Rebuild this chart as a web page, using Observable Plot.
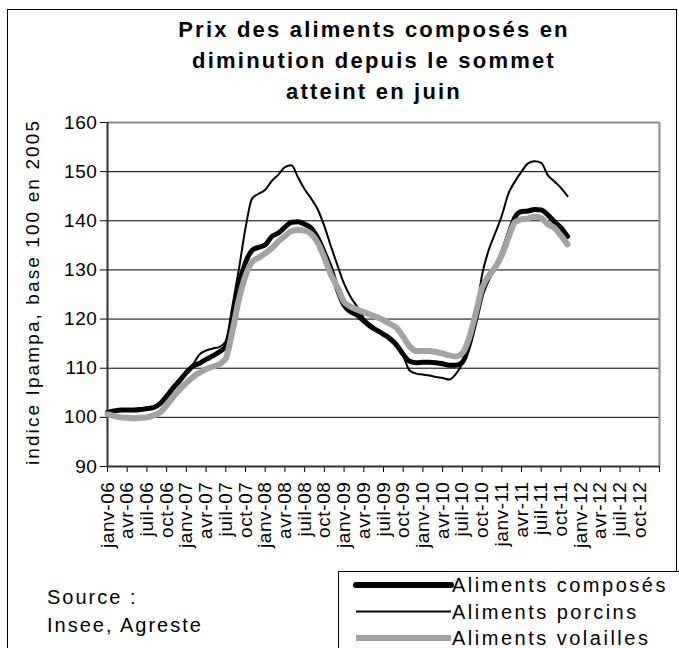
<!DOCTYPE html>
<html><head><meta charset="utf-8">
<script src="https://cdn.jsdelivr.net/npm/d3@7"></script>
<script src="https://cdn.jsdelivr.net/npm/@observablehq/plot@0.6"></script>
<style>
body{margin:0;background:#fff;}
#wrap{position:relative;width:679px;height:648px;overflow:hidden;font-family:"Liberation Sans",Arial,sans-serif;color:#000;background:#fff;}
#frame{position:absolute;left:7px;top:9px;width:670px;height:700px;border:1px solid #000;box-sizing:border-box;}
#title{position:absolute;left:74px;width:600px;top:14px;text-align:center;font-weight:bold;font-size:22px;line-height:31px;letter-spacing:2.2px;}
#chart{position:absolute;left:0;top:100px;}
#chart svg text{letter-spacing:0.6px;}
#ylab{position:absolute;left:33px;top:292px;transform:translate(-50%,-50%) rotate(-90deg);white-space:nowrap;font-size:19px;letter-spacing:2.1px;}
#source{position:absolute;left:47px;top:583px;font-size:20px;line-height:28px;letter-spacing:2px;}
#legend{position:absolute;left:338px;top:571px;}
</style>
</head><body>
<div id="wrap">
  <div id="frame"></div>
  <div id="title">Prix des aliments composés en<br>diminution depuis le sommet<br>atteint en juin</div>
  <div id="chart"></div>
  <div id="ylab">indice Ipampa, base 100 en 2005</div>
  <div id="source">Source :<br>Insee, Agreste</div>
  <svg id="legend" width="341" height="77"></svg>
</div>
<script>
// Monthly values, janv-06 .. nov-11
const composes = [101.0,101.3,101.5,101.5,101.5,101.6,101.8,102.0,102.8,104.3,106.0,107.5,109.1,110.4,111.0,111.8,112.5,113.3,114.5,119.5,127.0,131.5,134.0,134.6,135.1,136.8,137.5,138.7,139.7,139.8,139.3,138.5,136.5,133.5,130.2,126.0,122.8,121.5,120.8,119.6,118.5,117.7,116.9,116.0,114.7,112.8,111.4,111.1,111.2,111.2,111.1,110.9,110.6,110.6,111.2,114.6,119.8,125.3,128.5,130.5,133.2,137.0,140.7,141.9,142.0,142.3,142.2,141.2,139.8,138.6,136.8];
const porcins = [101.0,101.3,101.5,101.5,101.5,101.6,101.8,102.0,102.8,104.3,106.0,107.5,109.1,110.8,112.8,113.6,114.0,114.3,115.5,122.6,130.2,138.5,144.5,145.5,146.3,148.1,149.4,150.9,151.3,148.8,146.4,144.5,142.3,138.9,134.8,130.9,127.2,124.5,122.5,120.2,119.0,117.9,117.0,116.0,114.7,112.5,109.5,108.9,108.7,108.5,108.2,108.0,107.7,108.8,111.0,115.3,120.4,129.0,134.0,137.5,141.0,145.5,148.0,150.0,151.7,152.1,151.8,149.3,148.0,146.7,145.0];
const volailles = [100.6,100.3,100.0,99.9,99.8,99.9,100.0,100.4,101.0,102.5,104.2,105.7,107.0,108.2,109.1,109.8,110.3,110.8,112.0,117.5,124.0,128.8,131.6,132.5,133.4,134.4,135.8,136.9,137.9,138.1,138.0,137.3,135.5,132.5,129.0,126.5,123.5,122.5,121.9,121.4,120.9,120.4,119.8,119.0,118.2,116.4,114.4,113.5,113.5,113.5,113.3,113.0,112.6,112.4,113.1,116.0,121.0,126.3,128.8,130.5,133.0,136.5,139.7,140.3,140.5,140.8,140.6,139.3,138.6,137.0,135.2];
const tickLabels = ["janv-06","avr-06","juil-06","oct-06","janv-07","avr-07","juil-07","oct-07","janv-08","avr-08","juil-08","oct-08","janv-09","avr-09","juil-09","oct-09","janv-10","avr-10","juil-10","oct-10","janv-11","avr-11","juil-11","oct-11","janv-12","avr-12","juil-12","oct-12"];
const yTicks = [90,100,110,120,130,140,150,160];
const gridValues = [100,110,120,130,140,150];
const seriesNames = ["Aliments composés","Aliments porcins","Aliments volailles"];
const nMonths = 84; // axis spans janv-06 .. déc-12

const rows = arr => arr.map((v, i) => ({i, v}));
const xTicks = tickLabels.map((_, k) => k * 3).concat([nMonths]);

const chart = Plot.plot({
  width: 679, height: 470,
  marginLeft: 107, marginRight: 20, marginTop: 22, marginBottom: 104,
  style: {fontFamily: '"Liberation Sans", Arial, sans-serif', fontSize: "19px", color: "#000", background: "transparent", overflow: "visible"},
  x: {type: "linear", domain: [0, nMonths]},
  y: {domain: [90, 160]},
  marks: [
    Plot.ruleY(gridValues, {stroke: "#000", strokeWidth: 1}),
    Plot.ruleY([160], {stroke: "#8c8c8c", strokeWidth: 2}),
    Plot.ruleX([nMonths], {stroke: "#8c8c8c", strokeWidth: 2}),
    Plot.axisY({ticks: yTicks, tickSize: 7, tickPadding: 3, fontSize: 19, label: null}),
    Plot.axisX({ticks: xTicks, tickSize: 6, tickPadding: 9, tickRotate: -90, fontSize: 19, label: null,
      tickFormat: d => (d % 3 === 0 && tickLabels[d / 3]) || ""}),
    Plot.ruleX([0], {stroke: "#333", strokeWidth: 2}),
    Plot.ruleY([90], {stroke: "#333", strokeWidth: 2}),
    Plot.line(rows(composes), {x: "i", y: "v", stroke: "#000", strokeWidth: 5, curve: "monotone-x"}),
    Plot.line(rows(porcins), {x: "i", y: "v", stroke: "#000", strokeWidth: 2, curve: "monotone-x"}),
    Plot.line(rows(volailles), {x: "i", y: "v", stroke: "#a3a3a3", strokeWidth: 6, curve: "monotone-x"})
  ]
});
document.getElementById("chart").appendChild(chart);

// Legend
const lg = d3.select("#legend");
lg.append("rect").attr("x", 0.5).attr("y", 0.5).attr("width", 400).attr("height", 100).attr("fill", "#fff").attr("stroke", "#000");
const legendStyles = [
  {stroke: "#000", w: 6, cap: "round"},
  {stroke: "#000", w: 2, cap: "butt"},
  {stroke: "#a3a3a3", w: 6, cap: "butt"}
];
seriesNames.forEach((name, k) => {
  const y = 14 + k * 26.5;
  const s = legendStyles[k];
  lg.append("line").attr("x1", 18).attr("x2", 113).attr("y1", y).attr("y2", y)
    .attr("stroke", s.stroke).attr("stroke-width", s.w).attr("stroke-linecap", s.cap);
  lg.append("text").attr("x", 114).attr("y", y).attr("dy", "0.35em")
    .attr("font-family", '"Liberation Sans", Arial, sans-serif').attr("font-size", 20)
    .attr("letter-spacing", "2.5px").text(name);
});
</script>
</body></html>
